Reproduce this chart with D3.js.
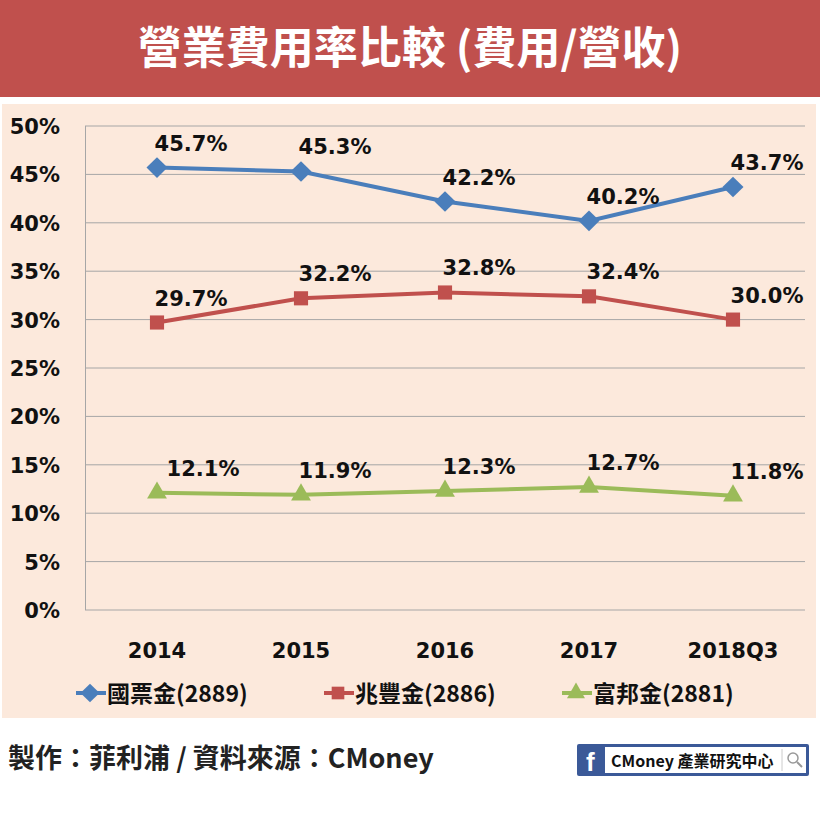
<!DOCTYPE html>
<html><head><meta charset="utf-8">
<script src="https://cdn.jsdelivr.net/npm/d3@7"></script>
<style>body{margin:0;background:#fff}svg{font-family:"Noto Sans CJK TC","Noto Sans",sans-serif}</style>
</head><body><svg id="c" width="820" height="820"></svg>
<script>
const years = ["2014", "2015", "2016", "2017", "2018Q3"];
const yTicks = [0, 5, 10, 15, 20, 25, 30, 35, 40, 45, 50];
const cathay = [45.7, 45.3, 42.2, 40.2, 43.7];
const megaFin = [29.7, 32.2, 32.8, 32.4, 30.0];
const fubon = [12.1, 11.9, 12.3, 12.7, 11.8];
const seriesNames = ["國票金(2889)", "兆豐金(2886)", "富邦金(2881)"];
const seriesColors = ["#4a7ebb", "#c0504d", "#9bbb59"];
const labelDx = [[0, 0, 0, 0, 0], [0, 0, 0, 0, 0], [12, 0, 0, 0, 0]];

const svg = d3.select("#c");
svg.append("rect").attr("width", 820).attr("height", 97).attr("fill", "#c0504d");
svg.append("text").attr("x", 410).attr("y", 64).attr("text-anchor", "middle")
  .attr("fill", "#fff").attr("font-size", 44).attr("font-weight", "bold")
  .text("營業費用率比較 (費用/營收)");
svg.append("rect").attr("x", 2).attr("y", 104).attr("width", 814).attr("height", 614).attr("fill", "#fce9dc");

const x = d3.scaleBand().domain(years).range([85, 805]);
const y = d3.scaleLinear().domain([0, 50]).range([610, 126]);

const g = svg.append("g");
g.selectAll("line.grid").data(yTicks).join("line")
  .attr("x1", 85).attr("x2", 805).attr("y1", d => y(d)).attr("y2", d => y(d))
  .attr("stroke", "#a6a6a6").attr("stroke-width", 1);
g.append("line").attr("x1", 85.5).attr("x2", 85.5).attr("y1", 126).attr("y2", 610).attr("stroke", "#a6a6a6");
g.selectAll("text.yt").data(yTicks).join("text")
  .attr("x", 60).attr("y", d => y(d) + 8).attr("text-anchor", "end")
  .attr("font-size", 21).attr("font-weight", "bold").attr("fill", "#111")
  .attr("font-family", "Verdana, DejaVu Sans, sans-serif").text(d => d + "%");
g.selectAll("text.xt").data(years).join("text")
  .attr("x", d => x(d) + x.bandwidth() / 2).attr("y", 658).attr("text-anchor", "middle")
  .attr("font-size", 21).attr("font-weight", "bold").attr("fill", "#111")
  .attr("font-family", "Verdana, DejaVu Sans, sans-serif").text(d => d);

const cx = d => x(d) + x.bandwidth() / 2;
const data = [cathay, megaFin, fubon];
const shapes = [d3.symbolDiamond, d3.symbolSquare, d3.symbolTriangle];
const shapeTf = ["scale(1.5,0.85)", "", ""];
const line = d3.line().x((d, i) => cx(years[i])).y(d => y(d));
data.forEach((vals, s) => {
  g.append("path").attr("d", line(vals)).attr("fill", "none")
    .attr("stroke", seriesColors[s]).attr("stroke-width", 4);
  g.selectAll(null).data(vals).join("path")
    .attr("transform", (d, i) => `translate(${cx(years[i])},${y(d)}) ${shapeTf[s]}`)
    .attr("d", d3.symbol().type(shapes[s]).size(s === 1 ? 200 : 170))
    .attr("fill", seriesColors[s]);
  g.selectAll(null).data(vals).join("text")
    .attr("x", (d, i) => cx(years[i]) + 34 + labelDx[s][i]).attr("y", d => y(d) - 17)
    .attr("text-anchor", "middle").attr("font-size", 21).attr("font-weight", "bold").attr("fill", "#111")
    .attr("font-family", "Verdana, DejaVu Sans, sans-serif").text(d => d.toFixed(1) + "%");
});

const legX = [90, 338, 576];
seriesNames.forEach((n, s) => {
  const lg = svg.append("g").attr("transform", `translate(${legX[s]},693)`);
  lg.append("line").attr("x1", -14).attr("x2", 16).attr("stroke", seriesColors[s]).attr("stroke-width", 4);
  lg.append("path").attr("d", d3.symbol().type(shapes[s]).size(s === 1 ? 160 : 140)()).attr("fill", seriesColors[s])
    .attr("transform", shapeTf[s]);
  lg.append("text").attr("x", 17).attr("y", 9).attr("font-size", 23).attr("font-weight", "bold").attr("fill", "#111").text(n);
});

svg.append("text").attr("x", 8).attr("y", 768).attr("font-size", 27).attr("font-weight", "bold").attr("fill", "#222")
  .text("製作：菲利浦 / 資料來源：CMoney");

const logo = svg.append("g").attr("transform", "translate(577,744)");
logo.append("rect").attr("width", 232).attr("height", 32).attr("fill", "#3b5998").attr("rx", 2);
logo.append("rect").attr("x", 28).attr("y", 3).attr("width", 201).attr("height", 26).attr("fill", "#fff");
logo.append("text").attr("x", 9).attr("y", 27).attr("fill", "#fff").attr("font-size", 26).attr("font-weight", "bold")
  .attr("font-family", "Liberation Sans, sans-serif").text("f");
logo.append("text").attr("x", 34).attr("y", 23).attr("font-size", 16).attr("font-weight", "bold").attr("fill", "#111")
  .text("CMoney 產業研究中心");
logo.append("line").attr("x1", 205).attr("x2", 205).attr("y1", 5).attr("y2", 27).attr("stroke", "#ccc");
logo.append("circle").attr("cx", 216).attr("cy", 14).attr("r", 5).attr("fill", "none").attr("stroke", "#999").attr("stroke-width", 1.5);
logo.append("line").attr("x1", 220).attr("x2", 225).attr("y1", 18).attr("y2", 23).attr("stroke", "#999").attr("stroke-width", 2);
</script></body></html>
